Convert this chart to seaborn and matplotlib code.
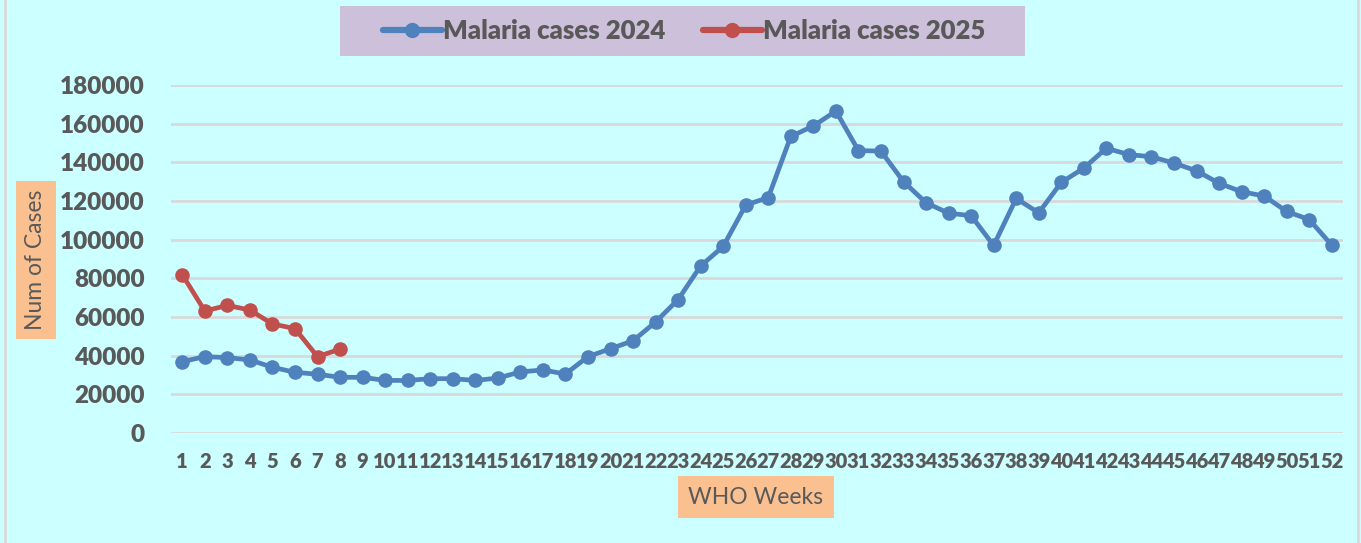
import matplotlib
matplotlib.use("Agg")
import matplotlib.pyplot as plt
import seaborn as sns
import pandas as pd
from matplotlib.lines import Line2D
from matplotlib.patches import Rectangle

weeks_2024 = list(range(1, 53))
cases_2024 = [36900, 39500, 39000, 37800, 34000, 31400, 30400, 28800, 28800, 27200,
              27200, 28100, 28100, 27200, 28400, 31600, 32600, 30500, 39500, 43600,
              47700, 57400, 69000, 86400, 96500, 117900, 121800, 153400, 158800, 166500,
              146100, 145800, 130000, 119100, 113700, 112400, 97000, 121300, 113900, 129600,
              137000, 147300, 144000, 142900, 139600, 135600, 129200, 124800, 122600, 114600,
              110400, 97200]
weeks_2025 = list(range(1, 9))
cases_2025 = [81900, 63100, 66000, 63600, 56400, 54000, 39500, 43400]
series_names = ["Malaria cases 2024", "Malaria cases 2025"]
y_ticks = [0, 20000, 40000, 60000, 80000, 100000, 120000, 140000, 160000, 180000]

df = pd.concat([
    pd.DataFrame({"week": weeks_2024, "cases": cases_2024, "series": series_names[0]}),
    pd.DataFrame({"week": weeks_2025, "cases": cases_2025, "series": series_names[1]}),
])

sns.set_theme(style="white")
plt.rcParams['font.family'] = ['Lato', 'DejaVu Sans']

bg = "#CCFFFF"
txt = "#595959"
colors = {series_names[0]: "#4F81BD", series_names[1]: "#C0504D"}

fig = plt.figure(figsize=(13.61, 5.43), dpi=100, facecolor=bg)
ax = fig.add_axes([171/1361, 1-433/543, (1343-171)/1361, (433-85)/543])
ax.set_facecolor(bg)

sns.lineplot(data=df, x="week", y="cases", hue="series", palette=colors, ax=ax,
             linewidth=3.4, marker="o", markersize=10.5, markeredgewidth=0,
             legend=False, clip_on=False, zorder=3)

ax.set_xlim(0.5, 52.5)
ax.set_ylim(0, 180000)
ax.set_yticks(y_ticks)
ax.set_yticklabels([str(v) for v in y_ticks], fontsize=17.5, fontweight="heavy", color=txt)
ax.set_xticks(weeks_2024)
ax.set_xticklabels([str(w) for w in weeks_2024], fontsize=14.5, fontweight="heavy", color=txt)
ax.tick_params(axis="both", length=0)
ax.tick_params(axis="y", pad=19)
ax.tick_params(axis="x", pad=14)
ax.yaxis.grid(True, color="#D9D9D9", linewidth=2, zorder=0)
ax.set_axisbelow(True)
for s in ax.spines.values():
    s.set_visible(False)
ax.set_xlabel("")
ax.set_ylabel("")

# axis titles in orange boxes
fig.text(36/1361, 1-260/543, "Num of Cases", rotation=90, ha="center", va="center",
         fontsize=16.5, color=txt,
         bbox=dict(boxstyle="square,pad=0.4", facecolor="#FAC090", edgecolor="none"))
fig.text(756/1361, 1-497/543, "WHO Weeks", ha="center", va="center",
         fontsize=16.5, color=txt,
         bbox=dict(boxstyle="square,pad=0.45", facecolor="#FAC090", edgecolor="none"))

# legend background box
fig.add_artist(Rectangle((340/1361, 1-56/543), (1025-340)/1361, 50/543,
                         transform=fig.transFigure, facecolor="#CCC0DA",
                         edgecolor="none", zorder=1))
handles = [Line2D([0], [0], color=colors[n], linewidth=4.5, marker="o", markersize=11,
                  markeredgewidth=0) for n in series_names]
leg = fig.legend(handles, series_names, loc="center", ncol=2,
                 bbox_to_anchor=(684/1361, 1-31/543), frameon=False,
                 prop=dict(size=18.5, weight="heavy"), handlelength=2.3, handletextpad=0.05,
                 columnspacing=1.45, borderpad=0.5, borderaxespad=0)
leg.set_zorder(2)
for t in leg.get_texts():
    t.set_color(txt)

# outer border lines
fig.add_artist(Line2D([5/1361, 5/1361], [0, 1], color="#D9D9D9", linewidth=2))
fig.add_artist(Line2D([1358/1361, 1358/1361], [0, 1], color="#D9D9D9", linewidth=2))

fig.savefig("out.png", dpi=100, facecolor=bg)
